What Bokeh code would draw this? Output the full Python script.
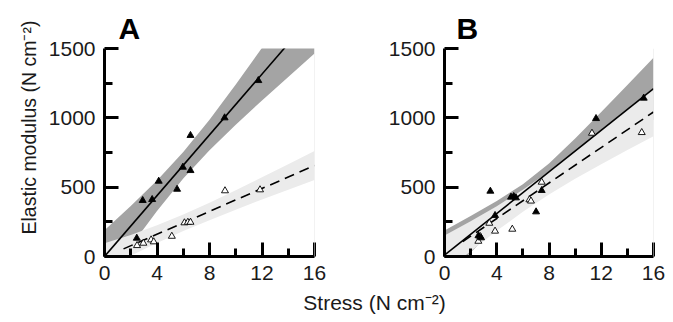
import math
from bokeh.plotting import figure
from bokeh.models import Range1d, FixedTicker, Label, Span
from bokeh.layouts import row, column
from bokeh.embed import file_html
from bokeh.resources import INLINE

FONT = "Liberation Sans"

# ---------------- data ----------------
x_ticks = [0, 4, 8, 12, 16]
x_minor = [2, 6, 10, 14]
y_ticks = [0, 500, 1000, 1500]
y_minor = [250, 750, 1250]

band_x = [0, 2, 4, 6, 8, 10, 12, 14, 16]

# Panel A
a_filled_x = [2.46, 2.91, 3.63, 4.13, 5.53, 5.97, 6.55, 6.55, 9.15, 11.72]
a_filled_y = [132, 404, 411, 543, 485, 644, 873, 620, 1000, 1269]
a_open_x = [2.48, 2.96, 3.55, 3.75, 5.13, 6.09, 6.35, 6.55, 9.18, 11.85]
a_open_y = [79, 96, 120, 106, 146, 243, 247, 247, 474, 481]
a_solid_fit = (0.0, 109.6)      # intercept, slope
a_solid_span = [0, 16]
a_dashed_fit = (-5.0, 41.3)
a_dashed_span = [1.45, 16]
a_dark_lo = [-190, 74, 328, 563, 767, 951, 1125, 1295, 1464]
a_dark_hi = [190, 364, 548, 753, 987, 1241, 1505, 1773, 2044]
a_light_lo = [-100, 5, 98, 183, 262, 338, 411, 481, 551]
a_light_hi = [95, 155, 225, 303, 388, 478, 571, 665, 761]

# Panel B
b_filled_x = [2.6, 2.8, 3.51, 3.87, 5.09, 5.30, 5.47, 7.01, 7.44, 11.6, 15.25]
b_filled_y = [150, 135, 471, 296, 428, 433, 423, 322, 476, 995, 1142]
b_open_x = [2.59, 2.74, 3.43, 3.87, 5.19, 6.5, 6.62, 7.44, 11.29, 15.1]
b_open_y = [110, 144, 240, 183, 197, 409, 400, 536, 889, 894]
b_solid_fit = (10.0, 75.0)
b_solid_span = [0, 16]
b_dashed_fit = (18.0, 64.0)
b_dashed_span = [1.4, 16]
b_dark_lo = [-167, 28, 219, 399, 549, 669, 778, 883, 987]
b_dark_hi = [187, 292, 401, 521, 671, 851, 1042, 1237, 1433]
b_light_lo = [-115, 38, 185, 322, 447, 560, 666, 768, 867]
b_light_hi = [151, 254, 363, 482, 613, 756, 906, 1060, 1217]

x_title = "Stress (N cm\u207b\u00b2)"
y_title = "Elastic modulus (N cm\u207b\u00b2)"
panel_names = ["A", "B"]

DARK = "#a4a4a4"
LIGHT = "#ebebeb"
TXT = "#1a1a1a"
FS = "21px"

PANEL_H = 290
LEFT_W = 42


def bare(width, height):
    p = figure(width=width, height=height, output_backend="svg",
               toolbar_location=None, title=None,
               x_range=Range1d(0, width), y_range=Range1d(0, height),
               x_axis_location=None, y_axis_location=None, min_border=0)
    p.outline_line_color = None
    p.grid.visible = False
    return p


def make_panel(name, letter_offset, width, left, right,
               filled, opened, solid, dashed, dark, light):
    p = figure(width=width, height=PANEL_H, output_backend="svg",
               toolbar_location=None, title=name,
               x_range=Range1d(0, 16), y_range=Range1d(0, 1500),
               min_border_left=left, min_border_right=right,
               min_border_top=48, min_border_bottom=34)
    p.outline_line_color = None
    p.grid.visible = False
    p.title.text_font = FONT
    p.title.text_font_size = "30px"
    p.title.text_font_style = "bold"
    p.title.text_color = "black"
    p.title.align = "left"
    p.title.offset = letter_offset
    p.title.standoff = 8

    for ax, maj, mnr in ((p.xaxis[0], x_ticks, x_minor),
                         (p.yaxis[0], y_ticks, y_minor)):
        ax.ticker = FixedTicker(ticks=maj, minor_ticks=mnr)
        ax.axis_line_width = 3
        ax.axis_line_color = "black"
        ax.major_tick_in = 14
        ax.major_tick_out = 0
        ax.minor_tick_in = 8
        ax.minor_tick_out = 0
        ax.major_tick_line_width = 3
        ax.minor_tick_line_width = 3
        ax.major_tick_line_color = "black"
        ax.minor_tick_line_color = "black"
        ax.major_label_text_font = FONT
        ax.major_label_text_font_size = FS
        ax.major_label_text_color = TXT
    p.xaxis[0].major_label_standoff = 9
    p.yaxis[0].major_label_standoff = 9

    p.add_layout(Span(location=16, dimension="height",
                      line_color="#e6e6e6", line_width=1))

    p.varea(x=band_x, y1=dark[0], y2=dark[1], fill_color=DARK)
    p.varea(x=band_x, y1=light[0], y2=light[1], fill_color=LIGHT)

    sx = solid[1]
    p.line(sx, [solid[0][0] + solid[0][1] * v for v in sx],
           line_color="black", line_width=1.6)
    dx = dashed[1]
    p.line(dx, [dashed[0][0] + dashed[0][1] * v for v in dx],
           line_color="black", line_width=1.6, line_dash="10 6")

    p.scatter(opened[0], opened[1], marker="triangle", size=7,
              fill_color="white", line_color="black", line_width=0.9)
    p.scatter(filled[0], filled[1], marker="triangle", size=7,
              fill_color="black", line_color="black", line_width=0.9)
    return p


# left strip with the y-axis title
pY = bare(LEFT_W, PANEL_H)
pY.add_layout(Label(x=28, y=PANEL_H - 127, text=y_title,
                    angle=math.pi / 2, text_font=FONT, text_font_size="19.5px",
                    text_align="center", text_baseline="middle",
                    text_color=TXT))

pA = make_panel(panel_names[0], 14, 298, 62, 26,
                (a_filled_x, a_filled_y), (a_open_x, a_open_y),
                (a_solid_fit, a_solid_span), (a_dashed_fit, a_dashed_span),
                (a_dark_lo, a_dark_hi), (a_light_lo, a_light_hi))
pB = make_panel(panel_names[1], 12, 333, 104, 20,
                (b_filled_x, b_filled_y), (b_open_x, b_open_y),
                (b_solid_fit, b_solid_span), (b_dashed_fit, b_dashed_span),
                (b_dark_lo, b_dark_hi), (b_light_lo, b_light_hi))

pL = bare(673, 32)
pL.add_layout(Label(x=374, y=20, text=x_title, text_font=FONT,
                    text_font_size=FS, text_align="center",
                    text_baseline="middle", text_color=TXT))

layout = column(row(column(pY), column(row(pA, pB))), pL)
open("out.html", "w").write(file_html(layout, INLINE))
